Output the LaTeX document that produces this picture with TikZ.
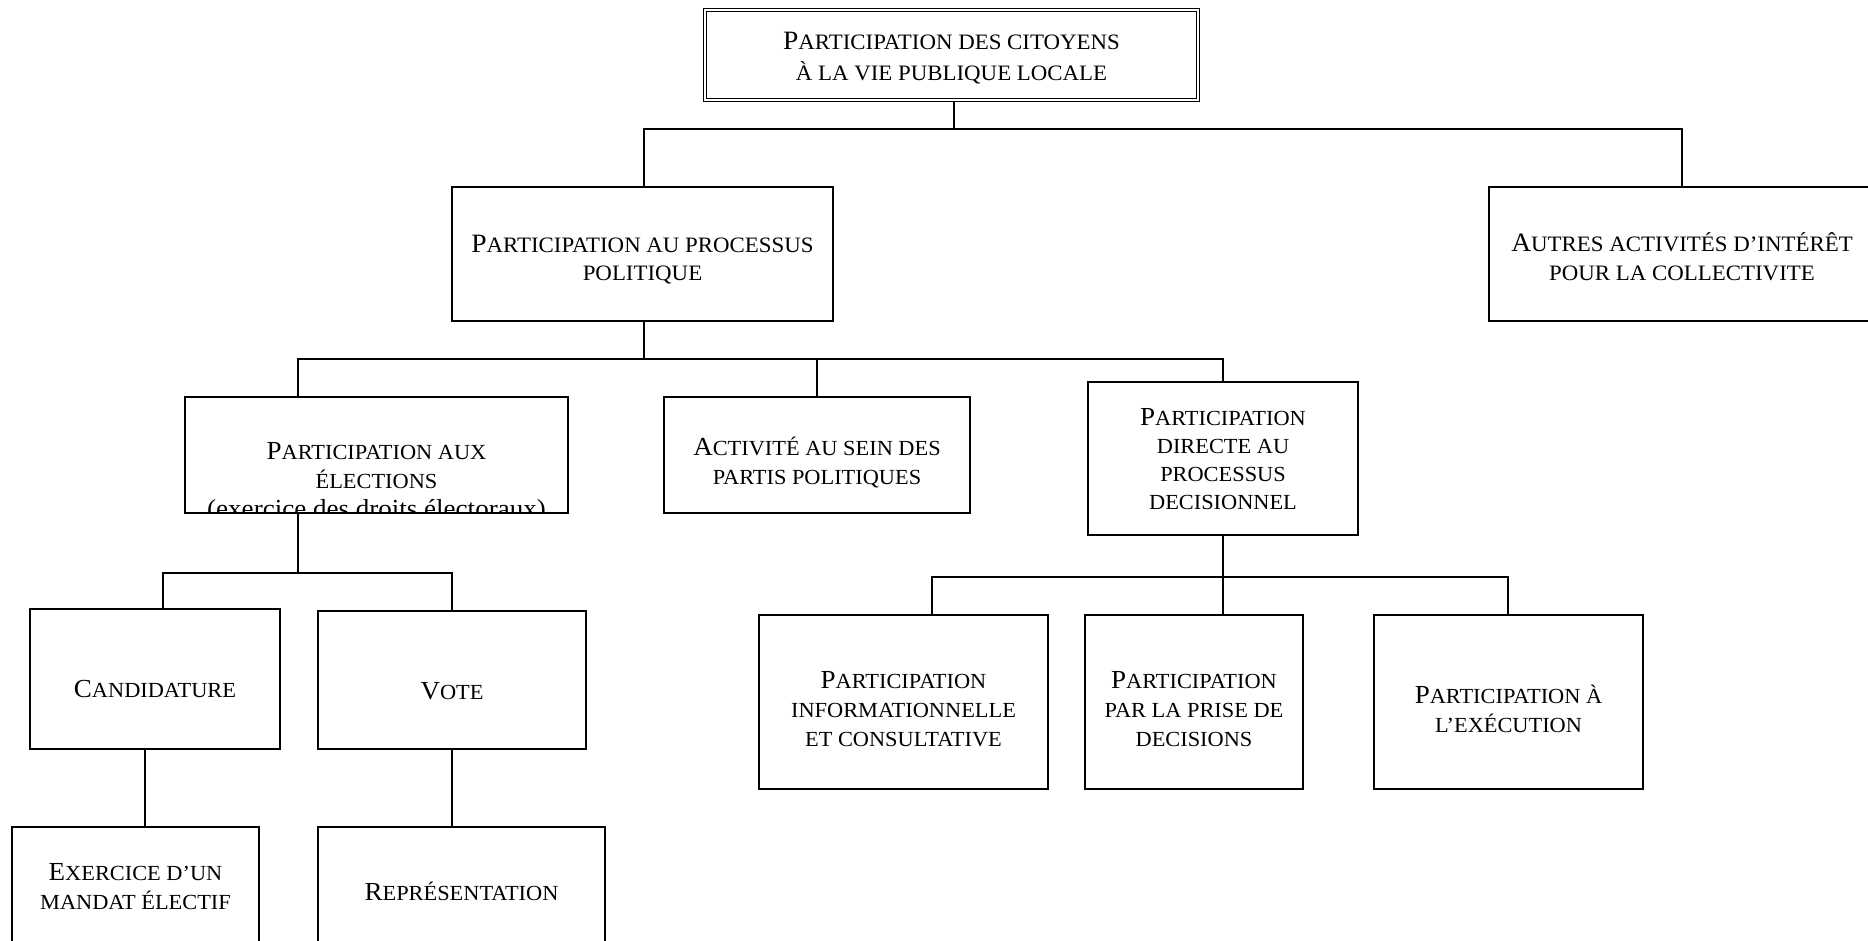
\documentclass[tikz,border=0pt]{standalone}
\usepackage{fontspec}
\setmainfont[FakeStretch=1.04]{Liberation Serif}
\newcommand\smc{\fontsize{21.5}{29}\selectfont}
\newcommand\smC{\fontsize{22}{31}\selectfont}
\begin{document}
\begin{tikzpicture}[x=1pt,y=-1pt,
  box/.style={draw, line width=1.5pt, inner sep=0pt},
  wire/.style={line width=1.5pt},
  txt/.style={inner sep=0pt, align=center, font=\fontsize{26}{29}\selectfont},
  toptxt/.style={inner sep=0pt, align=center, font=\fontsize{26.5}{31}\selectfont}]
\useasboundingbox (0,0) rectangle (1868,940);
\clip (0,0) rectangle (1868,940);
\fill[white] (0,0) rectangle (1868,940);

% boxes
\node[box, line width=1.1pt, double=white, double distance=2.6pt,
  minimum width=493pt, minimum height=90pt] (top) at (951.5,55) {};
\node[toptxt, yshift=-3pt] (topT) at (top)
  {P{\smC ARTICIPATION DES CITOYENS}\\{\smC À LA VIE PUBLIQUE LOCALE}};
\node[box, minimum width=381pt, minimum height=134pt] (proc) at (642.5,254) {};
\node[toptxt, yshift=-6pt] (procT) at (proc)
  {P{\smC ARTICIPATION AU PROCESSUS}\\[-3pt]{\smC POLITIQUE}};
\node[box, minimum width=386pt, minimum height=134pt] (autres) at (1682,254) {};
\node[toptxt, yshift=-3pt] (autresT) at (autres)
  {A{\smC UTRES ACTIVITÉS D’INTÉRÊT}\\[-2pt]{\smC POUR LA COLLECTIVITE}};
\node[box, minimum width=383pt, minimum height=116pt] (elec) at (376.5,455) {};
\begin{scope}
  \clip (elec.south west) rectangle (elec.north east);
  \node[txt, anchor=north] (electxt) at (376.5,442)
    {P{\smc ARTICIPATION AUX}\\{\smc ÉLECTIONS}\\(exercice des droits électoraux)};
\end{scope}
\node[box, minimum width=306pt, minimum height=116pt] (partis) at (817,455) {};
\node[txt, yshift=-8pt] (partisT) at (partis)
  {A{\smc CTIVITÉ AU SEIN DES}\\{\smc PARTIS POLITIQUES}};
\node[box, minimum width=270pt, minimum height=153pt] (directe) at (1223,458.5) {};
\node[txt, yshift=-1pt] (directeT) at (directe)
  {P{\smc ARTICIPATION}\\[-1pt]{\smc DIRECTE AU}\\[-1pt]{\smc PROCESSUS}\\[-1pt]{\smc DECISIONNEL}};
\node[box, minimum width=250pt, minimum height=140pt] (cand) at (155,679) {};
\node[txt, yshift=-10pt] (candT) at (cand) {C{\smc ANDIDATURE}};
\node[box, minimum width=268pt, minimum height=138pt] (vote) at (452,680) {};
\node[txt, yshift=-11pt] (voteT) at (vote) {V{\smc OTE}};
\node[box, minimum width=247pt, minimum height=120pt] (exer) at (135.5,887) {};
\node[txt] (exerT) at (exer) {E{\smc XERCICE D’UN}\\{\smc MANDAT ÉLECTIF}};
\node[box, minimum width=287pt, minimum height=120pt] (repr) at (461.5,887) {};
\node[txt, yshift=-4pt] (reprT) at (repr) {R{\smc EPRÉSENTATION}};
\node[box, minimum width=289pt, minimum height=174pt] (info) at (903.5,702) {};
\node[txt, yshift=-7pt] (infoT) at (info)
  {P{\smc ARTICIPATION}\\{\smc INFORMATIONNELLE}\\{\smc ET CONSULTATIVE}};
\node[box, minimum width=218pt, minimum height=174pt] (prise) at (1194,702) {};
\node[txt, yshift=-7pt] (priseT) at (prise)
  {P{\smc ARTICIPATION}\\{\smc PAR LA PRISE DE}\\{\smc DECISIONS}};
\node[box, minimum width=269pt, minimum height=174pt] (exec) at (1508.5,702) {};
\node[txt, yshift=-7pt] (execT) at (exec)
  {P{\smc ARTICIPATION À}\\{\smc L’EXÉCUTION}};

% junction coordinates
\coordinate (j1) at (954,129);
\coordinate (d1) at (644,129);
\coordinate (d2) at (1682,129);
\coordinate (j2) at (644,359);
\coordinate (e1) at (298,359);
\coordinate (e2) at (817,359);
\coordinate (e3) at (1223,359);
\coordinate (j3) at (298,573);
\coordinate (f1) at (163,573);
\coordinate (f2) at (452,573);
\coordinate (g1) at (145,800);
\coordinate (j4) at (1223,577);
\coordinate (h1) at (932,577);
\coordinate (h3) at (1508,577);

% connectors
\draw[wire] (top.south -| j1) -- (j1);
\draw[wire] (proc.north -| d1) -- (d1) -- (d2) -- (autres.north -| d2);
\draw[wire] (proc.south -| j2) -- (j2);
\draw[wire] (elec.north -| e1) -- (e1) -- (e3) -- (directe.north -| e3);
\draw[wire] (e2) -- (partis.north -| e2);
\draw[wire] (elec.south -| j3) -- (j3);
\draw[wire] (cand.north -| f1) -- (f1) -- (f2) -- (vote.north -| f2);
\draw[wire] (cand.south -| g1) -- (exer.north -| g1);
\draw[wire] (vote.south) -- (vote.south |- repr.north);
\draw[wire] (directe.south -| j4) -- (j4);
\draw[wire] (info.north -| h1) -- (h1) -- (h3) -- (exec.north -| h3);
\draw[wire] (j4) -- (prise.north -| j4);
\end{tikzpicture}
\end{document}
